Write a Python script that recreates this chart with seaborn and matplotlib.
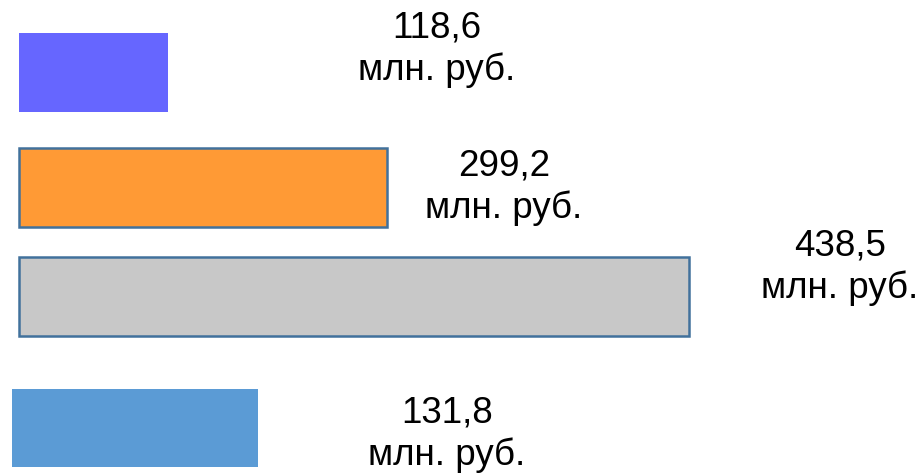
import numpy as np
import pandas as pd
import seaborn as sns
import matplotlib.pyplot as plt

# данные
categories = ["A", "B", "C", "D"]
values = [118.6, 299.2, 438.5, 131.8]          # подписи, млн. руб.
bar_len = [97.5, 240.9, 438.5, 161.0]          # длина полос как на картинке
colors = ["#6666FF", "#FF9A35", "#C8C8C8", "#5B9BD5"]
edges = ["none", "#41719C", "#41719C", "none"]

# раскладка (не данные)
y_nudge = [0.025, 0.0, -0.07, 0.048]
x_shift = [0, 0, 0, -4.6]
label_x = [273.6, 317.4, 537.3, 280.1]
label_y = [-0.18, 0.99, 1.67, 3.09]

sns.set_theme(style="white")
plt.rcParams["font.family"] = ["Liberation Sans", "DejaVu Sans"]

df = pd.DataFrame({"cat": categories, "len": bar_len})

fig = plt.figure(figsize=(9.23, 4.77), dpi=100)
ax = fig.add_axes([0, 0, 1, 1])
sns.barplot(data=df, x="len", y="cat", hue="cat", palette=colors,
            orient="h", width=0.67, saturation=1, legend=False, ax=ax)

for i, p in enumerate(ax.patches):
    p.set_y(p.get_y() + y_nudge[i])
    p.set_x(p.get_x() + x_shift[i])
    if edges[i] != "none":
        p.set_edgecolor(edges[i])
        p.set_linewidth(1.8)
    else:
        p.set_linewidth(0)

for i, v in enumerate(values):
    txt = f"{v:.1f}".replace(".", ",") + "\nмлн. руб."
    ax.text(label_x[i], label_y[i], txt, ha="center", va="center",
            fontsize=26.5, linespacing=1.25, color="black")

ax.set_xlim(-12.44, 591.7)
ax.set_ylim(3.456, -0.600)
ax.axis("off")

fig.savefig("out.png", dpi=100)
